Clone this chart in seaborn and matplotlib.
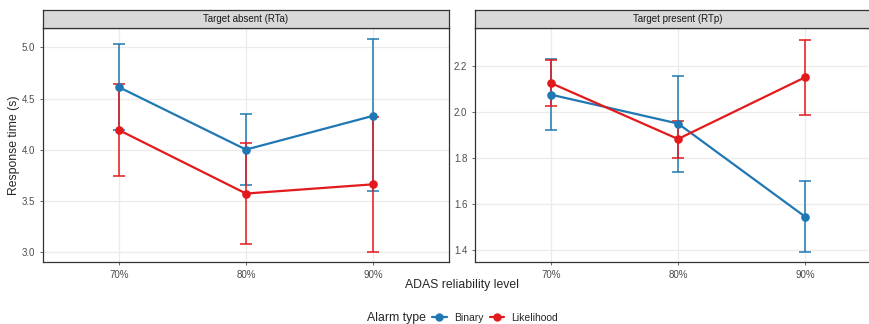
import numpy as np
import pandas as pd
import seaborn as sns
import matplotlib.pyplot as plt
from matplotlib.lines import Line2D

# Values
levels = ['70%', '80%', '90%']
alarm_types = ['Binary', 'Likelihood']
panels = ['Target absent (RTa)', 'Target present (RTp)']

rta_binary = [4.61, 4.00, 4.33]
rta_binary_lo = [4.19, 3.65, 3.59]
rta_binary_hi = [5.03, 4.35, 5.08]
rta_likelihood = [4.19, 3.57, 3.66]
rta_likelihood_lo = [3.74, 3.08, 3.00]
rta_likelihood_hi = [4.64, 4.06, 4.32]

rtp_binary = [2.075, 1.950, 1.547]
rtp_binary_lo = [1.920, 1.742, 1.393]
rtp_binary_hi = [2.228, 2.157, 1.701]
rtp_likelihood = [2.125, 1.883, 2.150]
rtp_likelihood_lo = [2.025, 1.802, 1.985]
rtp_likelihood_hi = [2.225, 1.963, 2.313]

colors = {'Binary': '#1f78b4', 'Likelihood': '#e31a1c'}

# Build a long table
rows = []
panel_data = {
    panels[0]: {'Binary': (rta_binary, rta_binary_lo, rta_binary_hi),
                'Likelihood': (rta_likelihood, rta_likelihood_lo, rta_likelihood_hi)},
    panels[1]: {'Binary': (rtp_binary, rtp_binary_lo, rtp_binary_hi),
                'Likelihood': (rtp_likelihood, rtp_likelihood_lo, rtp_likelihood_hi)},
}
for p in panels:
    for a in alarm_types:
        m, lo, hi = panel_data[p][a]
        for i, lev in enumerate(levels):
            rows.append({'panel': p, 'alarm': a, 'level': lev,
                         'rt': m[i], 'lo': lo[i], 'hi': hi[i]})
df = pd.DataFrame(rows)

sns.set_theme(style='white')
plt.rcParams['font.family'] = ['Liberation Sans', 'DejaVu Sans']

fig = plt.figure(figsize=(8.7, 3.24), dpi=100)
W, H = 870, 324

# panel geometry in pixels (left, right); the right panel runs past the edge
panel_x = [(43, 449), (475, 881)]
top, bottom = 28, 262
strip_top = 10
ylims = [(2.90, 5.19), (1.35, 2.364)]
yticks = [[3.0, 3.5, 4.0, 4.5, 5.0], [1.4, 1.6, 1.8, 2.0, 2.2]]

for k, p in enumerate(panels):
    x0, x1 = panel_x[k]
    ax = fig.add_axes([x0 / W, 1 - bottom / H, (x1 - x0) / W, (bottom - top) / H])
    sub = df[df['panel'] == p]

    # error bars first so the points sit on top
    for a in alarm_types:
        s = sub[sub['alarm'] == a]
        xi = [levels.index(v) for v in s['level']]
        ax.errorbar(xi, s['rt'], yerr=[s['rt'] - s['lo'], s['hi'] - s['rt']],
                    fmt='none', ecolor=colors[a], elinewidth=1.1, capsize=4.5,
                    capthick=1.1, zorder=2)

    sns.pointplot(data=sub, x='level', y='rt', hue='alarm', order=levels,
                  hue_order=alarm_types, palette=colors, errorbar=None,
                  markers='o', markersize=5, linewidth=1.6, ax=ax, legend=False)

    ax.set_xlim(-0.6, 2.6)
    ax.set_ylim(*ylims[k])
    ax.set_yticks(yticks[k])
    ax.set_yticklabels([f'{v:.1f}' for v in yticks[k]])
    ax.set_xlabel('')
    ax.set_ylabel('')
    ax.grid(True, color='#ebebeb', linewidth=0.9)
    ax.set_axisbelow(True)
    for sp in ax.spines.values():
        sp.set_color('#333333')
        sp.set_linewidth(0.9)
    ax.tick_params(axis='both', labelsize=7, colors='#4d4d4d', length=2.5,
                   width=0.6, pad=3, left=True, bottom=True)

    # facet strip
    sax = fig.add_axes([x0 / W, 1 - top / H, (x1 - x0) / W, (top - strip_top) / H])
    sax.set_facecolor('#d9d9d9')
    sax.set_xticks([])
    sax.set_yticks([])
    for sp in sax.spines.values():
        sp.set_color('#333333')
        sp.set_linewidth(0.9)
    sax.text(0.5, 0.5, p, ha='center', va='center', fontsize=7, color='#1a1a1a',
             transform=sax.transAxes)
    if k == 1:
        ax.spines['right'].set_visible(False)
        sax.spines['right'].set_visible(False)

fig.text(14 / W, 1 - 145 / H, 'Response time (s)', rotation=90, ha='center',
         va='center', fontsize=8.8)
fig.text(462 / W, 1 - 285 / H, 'ADAS reliability level', ha='center',
         va='center', fontsize=8.8)

# legend with the title placed to the left, as in ggplot bottom legends
fig.text(367 / W, 1 - 318 / H, 'Alarm type', ha='left', va='center', fontsize=8.8)
handles = [Line2D([0], [0], color=colors[a], marker='o', markersize=5,
                  linewidth=1.6) for a in alarm_types]
fig.legend(handles, alarm_types, loc='center left',
           bbox_to_anchor=(432 / W, 1 - 318 / H), ncol=2, frameon=False,
           fontsize=7.5, handlelength=1.4, handletextpad=0.7, columnspacing=0.6,
           borderaxespad=0, borderpad=0)

fig.savefig('out.png', dpi=100)
